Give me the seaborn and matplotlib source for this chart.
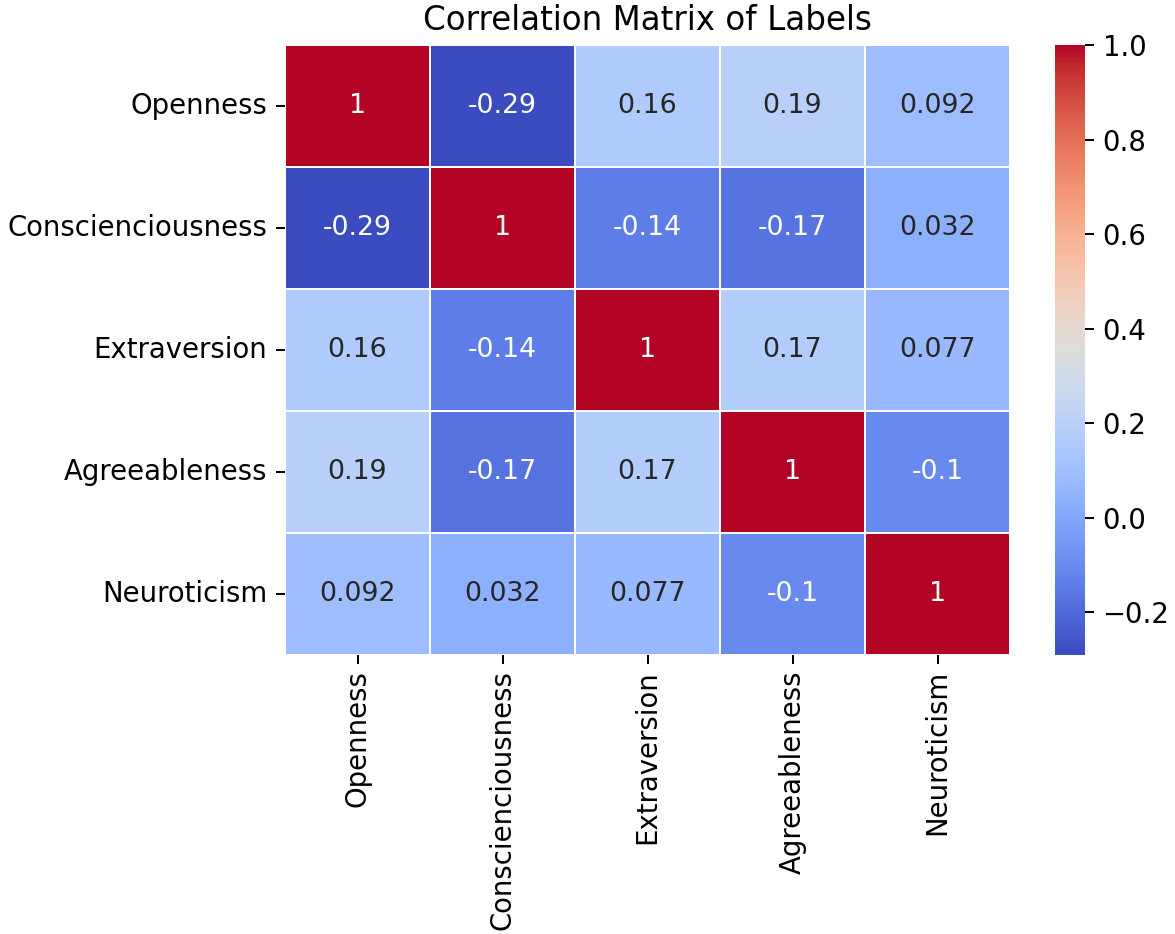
import numpy as np
import pandas as pd
import matplotlib
matplotlib.use("Agg")
import matplotlib.pyplot as plt
import seaborn as sns

labels = ["Openness", "Conscienciousness", "Extraversion", "Agreeableness", "Neuroticism"]
row_openness = [1.0, -0.29, 0.16, 0.19, 0.092]
row_consc = [-0.29, 1.0, -0.14, -0.17, 0.032]
row_extra = [0.16, -0.14, 1.0, 0.17, 0.077]
row_agree = [0.19, -0.17, 0.17, 1.0, -0.1]
row_neuro = [0.092, 0.032, 0.077, -0.1, 1.0]

corr = pd.DataFrame([row_openness, row_consc, row_extra, row_agree, row_neuro],
                    index=labels, columns=labels)

W, H, DPI = 1175, 934, 180
fig = plt.figure(figsize=(W / DPI, H / DPI), dpi=DPI)
ax = fig.add_axes([285 / W, 1 - 655 / H, (1010 - 285) / W, 610 / H])
cax = fig.add_axes([1055 / W, 1 - 655 / H, 30 / W, 610 / H])

sns.heatmap(corr, annot=True, cmap="coolwarm", linewidths=0.6, linecolor="white",
            ax=ax, cbar_ax=cax, annot_kws={"fontsize": 10.7})
ax.set_title("Correlation Matrix of Labels", fontsize=13)
ax.tick_params(axis="both", labelsize=11.0)
ax.tick_params(axis="x", pad=2.5)
cax.tick_params(labelsize=11.0)
plt.setp(ax.get_xticklabels(), rotation=90)
plt.setp(ax.get_yticklabels(), rotation=0)
fig.savefig("out.png", dpi=DPI)
